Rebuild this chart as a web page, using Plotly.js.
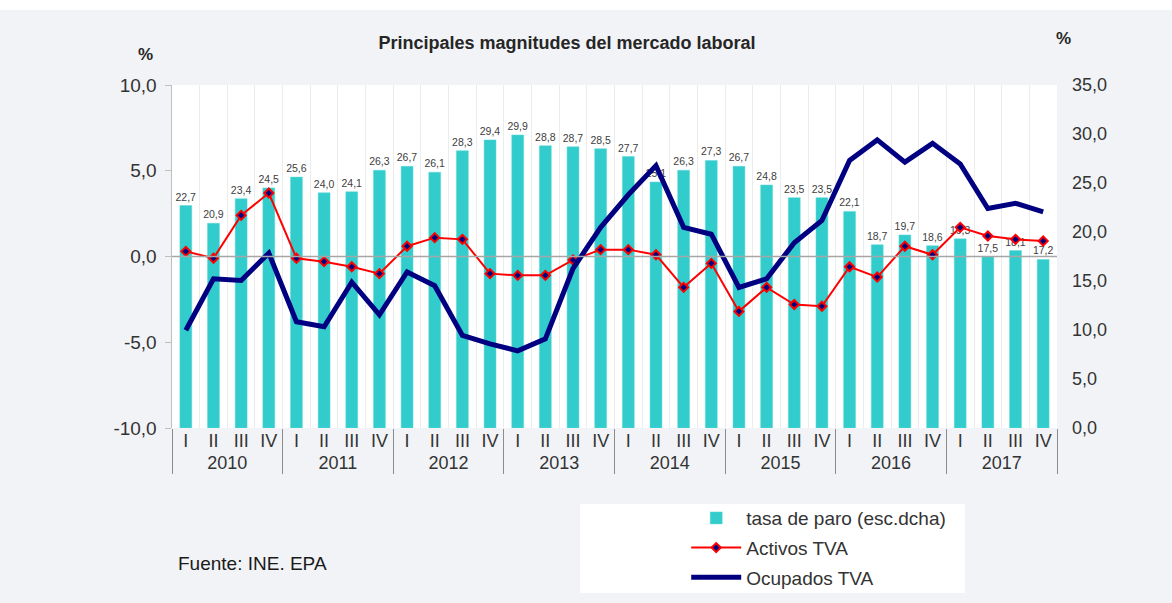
<!DOCTYPE html>
<html>
<head>
<meta charset="utf-8">
<script src="https://cdn.plot.ly/plotly-3.0.1.min.js"></script>
<style>html,body{margin:0;padding:0;background:#f2f3f7;}#chart{width:1172px;height:603px;}</style>
</head>
<body>
<div id="chart"></div>
<script>
// ---- data ----
const years = ['2010','2011','2012','2013','2014','2015','2016','2017'];
const quarters = ['I','II','III','IV'];
const tasaParo = [22.7,20.9,23.4,24.5, 25.6,24.0,24.1,26.3, 26.7,26.1,28.3,29.4, 29.9,28.8,28.7,28.5,
                  27.7,25.1,26.3,27.3, 26.7,24.8,23.5,23.5, 22.1,18.7,19.7,18.6, 19.3,17.5,18.1,17.2];
const activosTVA = [0.3,-0.1,2.4,3.7, -0.1,-0.3,-0.6,-1.0, 0.6,1.1,1.0,-1.0, -1.1,-1.1,-0.2,0.4,
                    0.4,0.1,-1.8,-0.4, -3.2,-1.8,-2.8,-2.9, -0.6,-1.2,0.6,0.1, 1.7,1.2,1.0,0.9];
const ocupadosTVA = [-4.3,-1.3,-1.4,0.2, -3.8,-4.1,-1.5,-3.4, -0.9,-1.7,-4.6,-5.1, -5.5,-4.8,-0.7,1.7,
                     3.6,5.3,1.7,1.3, -1.8,-1.3,0.8,2.1, 5.6,6.8,5.5,6.6, 5.4,2.8,3.1,2.6];
const leftTicks = [-10,-5,0,5,10];
const leftTickText = ['-10,0','-5,0','0,0','5,0','10,0'];
const rightTicks = [0,5,10,15,20,25,30,35];
const rightTickText = ['0,0','5,0','10,0','15,0','20,0','25,0','30,0','35,0'];
const seriesNames = ['tasa de paro (esc.dcha)','Activos TVA','Ocupados TVA'];

// ---- build multicategory x ----
const xYear = [], xQ = [];
years.forEach(y => quarters.forEach(q => { xYear.push(y); xQ.push(q); }));
const xCat = [xYear, xQ];
const fmt = v => v.toFixed(1).replace('.', ',');

const FONT = 'Liberation Sans, Arial, sans-serif';
const TXT = '#333333';

const traces = [
  {
    type: 'bar', x: xCat, y: tasaParo, name: seriesNames[0], yaxis: 'y',
    marker: {color: '#33CCCC', line: {color: '#5fd9d9', width: 0.5}},
    text: tasaParo.map(fmt), textposition: 'outside', constraintext: 'none', cliponaxis: false,
    textfont: {family: FONT, size: 10.5, color: '#404040'},
    hoverinfo: 'skip', legendgroup: 'a'
  },
  {
    type: 'scatter', mode: 'lines+markers', x: xCat, y: activosTVA, name: seriesNames[1], yaxis: 'y2',
    line: {color: '#FF0000', width: 2},
    marker: {symbol: 'diamond', size: 7, color: '#000080', line: {color: '#FF0000', width: 2}},
    legendgroup: 'b'
  },
  {
    type: 'scatter', mode: 'lines', x: xCat, y: ocupadosTVA, name: seriesNames[2], yaxis: 'y2',
    line: {color: '#000080', width: 5},
    legendgroup: 'c'
  }
];

const layout = {
  width: 1172, height: 603,
  margin: {l: 172, r: 115, t: 85, b: 175, pad: 0, autoexpand: false},
  paper_bgcolor: '#f2f3f7', plot_bgcolor: '#ffffff',
  font: {family: FONT, size: 19, color: TXT},
  separators: ',.',
  bargap: 0.57,
  showlegend: true,
  title: {
    text: 'Principales magnitudes del mercado laboral',
    font: {family: FONT, size: 18, weight: 'bold', color: '#262626'},
    xref: 'paper', x: 0.4463, xanchor: 'center',
    yref: 'container', y: 0.929, yanchor: 'middle'
  },
  xaxis: {
    type: 'multicategory', tickson: 'boundaries',
    showgrid: true, gridcolor: '#ececec', gridwidth: 1,
    showline: false, ticks: '', zeroline: false,
    showdividers: true, dividercolor: '#8c8c8c', dividerwidth: 1,
    tickfont: {family: FONT, size: 18, color: TXT},
    range: [-0.5, 31.5], fixedrange: true, automargin: false
  },
  yaxis: {
    side: 'right', range: [0, 35],
    tickvals: rightTicks, ticktext: rightTickText,
    showline: false, ticks: '', showgrid: false, zeroline: false,
    ticklabelstandoff: 14, automargin: false,
    tickfont: {family: FONT, size: 18, color: TXT}
  },
  yaxis2: {
    overlaying: 'y', side: 'left', range: [-10, 10],
    tickvals: leftTicks, ticktext: leftTickText,
    showline: true, linecolor: '#bfbfbf', linewidth: 1.5,
    ticks: 'outside', ticklen: 6, tickcolor: '#bfbfbf',
    showgrid: false, zeroline: false,
    ticklabelstandoff: 4, automargin: false,
    tickfont: {family: FONT, size: 19, color: TXT}
  },
  legend: {
    xref: 'container', yref: 'container',
    x: 0.5855, xanchor: 'left', y: 0.1724, yanchor: 'top',
    bgcolor: 'rgba(0,0,0,0)', borderwidth: 0,
    font: {family: FONT, size: 19, color: TXT},
    itemwidth: 50, traceorder: 'grouped', tracegroupgap: 2
  },
  shapes: [
    {type: 'rect', xref: 'paper', yref: 'paper', x0: -0.2, x1: 1.2, y0: 1.2187, y1: 1.3,
     fillcolor: '#ffffff', line: {width: 0}, layer: 'below'},
    {type: 'rect', xref: 'paper', yref: 'paper', x0: 0.461, x1: 0.896, y0: -0.481, y1: -0.2216,
     fillcolor: '#ffffff', line: {width: 0}, layer: 'below'},
    {type: 'line', xref: 'paper', yref: 'y2', x0: 0, x1: 1, y0: 0, y1: 0,
     line: {color: '#a6a6a6', width: 1.5}, layer: 'above'}
  ],
  annotations: [
    {text: '%', xref: 'paper', yref: 'paper', x: -0.0305, y: 1.0875, showarrow: false,
     font: {family: FONT, size: 17, weight: 'bold', color: '#262626'}, xanchor: 'center', yanchor: 'middle'},
    {text: '%', xref: 'paper', yref: 'paper', x: 1.0079, y: 1.137, showarrow: false,
     font: {family: FONT, size: 17, weight: 'bold', color: '#262626'}, xanchor: 'center', yanchor: 'middle'},
    {text: 'Fuente: INE. EPA', xref: 'paper', yref: 'paper', x: 0.0045, y: -0.3936, showarrow: false,
     font: {family: FONT, size: 19, color: '#1a1a1a'}, xanchor: 'left', yanchor: 'middle'}
  ]
};

Plotly.newPlot('chart', traces, layout, {displayModeBar: false, staticPlot: true});
</script>
</body>
</html>
